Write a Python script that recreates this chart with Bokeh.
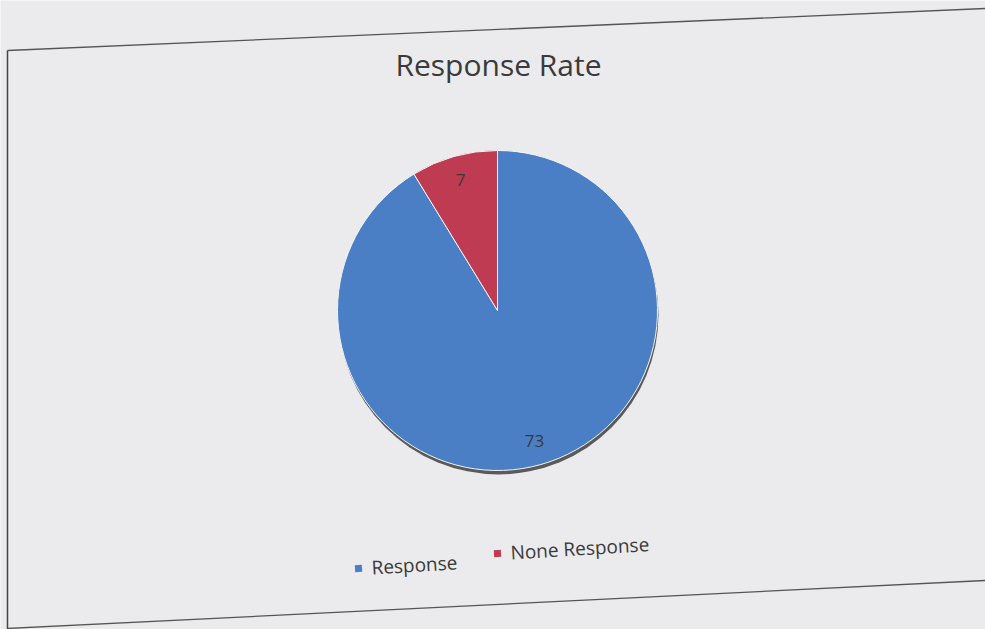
import math
from bokeh.plotting import figure
from bokeh.models import Range1d, ColumnDataSource
from bokeh.core.properties import value
from bokeh.embed import file_html
from bokeh.resources import INLINE

categories = ["Response", "None Response"]
values = [73, 7]
colors = ["#4a7fc6", "#bf3b52"]
title_text = "Response Rate"

W, H = 985, 629
cx, cy, r = 497, 629 - 310, 160

# Excel-style pie: start at 12 o'clock, go clockwise
total = sum(values)
starts, ends, lx, ly, labels = [], [], [], [], []
cum = 0.0
for v in values:
    a0 = math.pi / 2 - 2 * math.pi * cum / total
    a1 = math.pi / 2 - 2 * math.pi * (cum + v) / total
    starts.append(a1)
    ends.append(a0)
    mid = (a0 + a1) / 2
    lx.append(cx + 0.85 * r * math.cos(mid))
    ly.append(cy + 0.85 * r * math.sin(mid))
    labels.append(str(v))
    cum += v

src = ColumnDataSource(dict(start=starts, end=ends, color=colors, cat=categories))
lsrc = ColumnDataSource(dict(x=lx, y=ly, t=labels))

p = figure(width=W, height=H, x_range=Range1d(0, W), y_range=Range1d(0, H),
           output_backend="svg", toolbar_location=None, min_border=0)
p.axis.visible = False
p.grid.visible = False
p.outline_line_color = None
p.background_fill_color = "#ebebee"
p.border_fill_color = "#ebebee"

# tilted chart frame (scan)
p.line([7, 985], [629 - 50, 629 - 8], line_color="#555555", line_width=1.3)
p.line([7, 7], [629 - 50, 0], line_color="#444444", line_width=1.5)
p.line([7, 985], [629 - 628, 629 - 580], line_color="#555555", line_width=1.3)

# shadow
p.circle(x=[cx + 1], y=[cy - 4], radius=r, fill_color="#4a4a4a", line_color=None, fill_alpha=0.9)

p.wedge(x=cx, y=cy, radius=r, start_angle="start", end_angle="end",
        fill_color="color", line_color="#f4f4f4", line_width=1, source=src)

p.text(x="x", y="y", text="t", source=lsrc, text_font=value("Open Sans"),
       text_font_size="17px", text_color="#3a3a3a", text_align="center", text_baseline="middle")

p.text(x=[498], y=[629 - 64], text=[title_text], text_font=value("Open Sans"),
       text_font_size="30px", text_color="#3a3a3a", text_align="center", text_baseline="middle")

# legend
leg_x = [358, 497]
leg_y = [629 - 568, 629 - 553]
p.scatter(x=leg_x, y=leg_y, marker="square", size=7, fill_color=colors, line_color=None, angle=0.06)
p.text(x=[x + 13 for x in leg_x], y=[y + 1 for y in leg_y], text=categories,
       text_font=value("Open Sans"), text_font_size="19px", text_color="#3a3a3a",
       text_baseline="middle", angle=0.06)

open("out.html", "w").write(file_html(p, INLINE))
